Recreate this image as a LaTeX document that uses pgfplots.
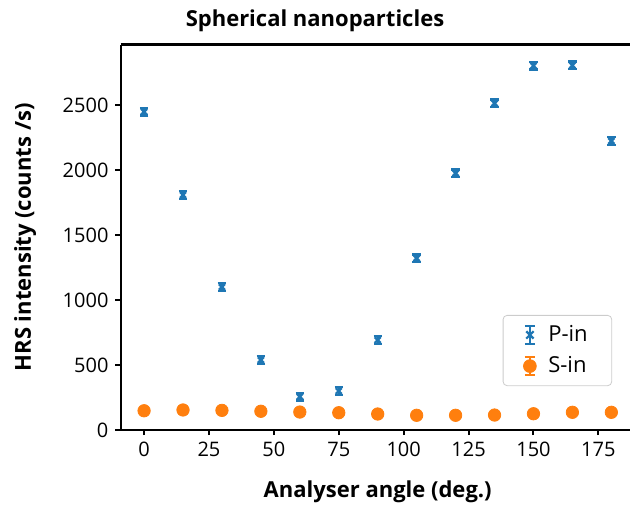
\documentclass[border=0pt]{standalone}
\usepackage{fontspec}
\setmainfont{Open Sans}
\usepackage{pgfplots}
\usepackage{pgfplotstable}
\pgfplotsset{compat=1.18}
\usetikzlibrary{calc}

\definecolor{tabblue}{HTML}{1F77B4}
\definecolor{taborange}{HTML}{FF7F0E}

% HRS intensity vs analyser angle, P-polarised input
\pgfplotstableread{
angle intensity err
0   2448 30
15  1808 30
30  1100 30
45  538  30
60  256  30
75  300  30
90  692  30
105 1321 30
120 1975 30
135 2513 30
150 2802 30
165 2805 30
180 2223 30
}\pin

% HRS intensity vs analyser angle, S-polarised input
\pgfplotstableread{
angle intensity err
0   148 15
15  154 15
30  151 15
45  144 15
60  138 15
75  133 15
90  123 15
105 113 15
120 113 15
135 115 15
150 125 15
165 136 15
180 136 15
}\sin

\begin{document}
\begin{tikzpicture}
\begin{axis}[
  scale only axis,
  width=257pt, height=192.65pt,
  xmin=-9, xmax=189, ymin=0, ymax=2964,
  axis x line*=box, axis y line*=left,
  axis line style={line width=1.2pt, black},
  xtick={0,25,...,175}, ytick={0,500,...,2500},
  xtick pos=bottom, ytick pos=left,
  tick align=outside, major tick length=2.6pt,
  tick style={line width=1pt, black},
  scaled ticks=false,
  /pgf/number format/assume math mode=true,
  /pgf/number format/1000 sep={},
  tick label style={font=\fontsize{10}{12}\selectfont},
  xlabel={Analyser angle (deg.)},
  ylabel={HRS intensity (counts /s)},
  xlabel style={at={(axis description cs:0.5,-0.174)}, anchor=base,
    font=\fontsize{11}{13}\selectfont\bfseries},
  ylabel style={at={(axis description cs:-0.186,0.5)}, anchor=center,
    font=\fontsize{11}{13}\selectfont\bfseries},
  title={Spherical nanoparticles},
  every axis title shift=0pt,
  title style={at={(axis description cs:0.378,1.0485)}, anchor=base,
    font=\fontsize{11}{13}\selectfont\bfseries},
  legend style={at={(axis description cs:0.7432,0.114)}, anchor=south west,
    draw=black!20, rounded corners=2pt, fill=white,
    font=\fontsize{11}{13}\selectfont, row sep=2pt,
    inner xsep=10pt, inner ysep=3pt},
  legend cell align=left,
  clip=false,
]
\addplot[only marks, mark=x, mark size=2.1pt, tabblue, line width=1.2pt,
  forget plot,
  error bars/.cd, y dir=both, y explicit,
  error bar style={line width=1.2pt, tabblue},
  error mark options={rotate=90, tabblue, line width=1.2pt, mark size=2.1pt}]
  table[x=angle, y=intensity, y error=err]{\pin};
\addplot[only marks, mark=*, mark size=3.1pt, taborange, forget plot,
  error bars/.cd, y dir=both, y explicit,
  error bar style={line width=1pt, taborange},
  error mark options={rotate=90, taborange, line width=1pt, mark size=2pt}]
  table[x=angle, y=intensity, y error=err]{\sin};

\addlegendimage{legend image code/.code={
  \path[draw=none, fill=none] (0pt,0pt) -- (10.6pt,0pt);
  \draw[tabblue, line width=1.1pt] (3.4pt,-4.5pt) -- (3.4pt,4.5pt)
    (0.9pt,-4.5pt) -- (5.9pt,-4.5pt)
    (0.9pt,4.5pt) -- (5.9pt,4.5pt);
  \draw[tabblue, line width=1.1pt] plot[mark=x, mark size=2.6pt] coordinates {(3.4pt,0pt)};
}}
\addlegendentry{P-in}
\addlegendimage{legend image code/.code={
  \path[draw=none, fill=none] (0pt,0pt) -- (10.6pt,0pt);
  \draw[taborange, line width=1.1pt] (3.4pt,-4.5pt) -- (3.4pt,4.5pt)
    (0.9pt,-4.5pt) -- (5.9pt,-4.5pt)
    (0.9pt,4.5pt) -- (5.9pt,4.5pt);
  \fill[taborange] (3.4pt,0pt) circle (3.2pt);
}}
\addlegendentry{S-in}
\end{axis}
\pgfresetboundingbox
\useasboundingbox ($(current axis.south west)+(-60.35pt,-38pt)$) rectangle
  ($(current axis.south west)+(254.65pt,215pt)$);
\end{tikzpicture}
\end{document}
